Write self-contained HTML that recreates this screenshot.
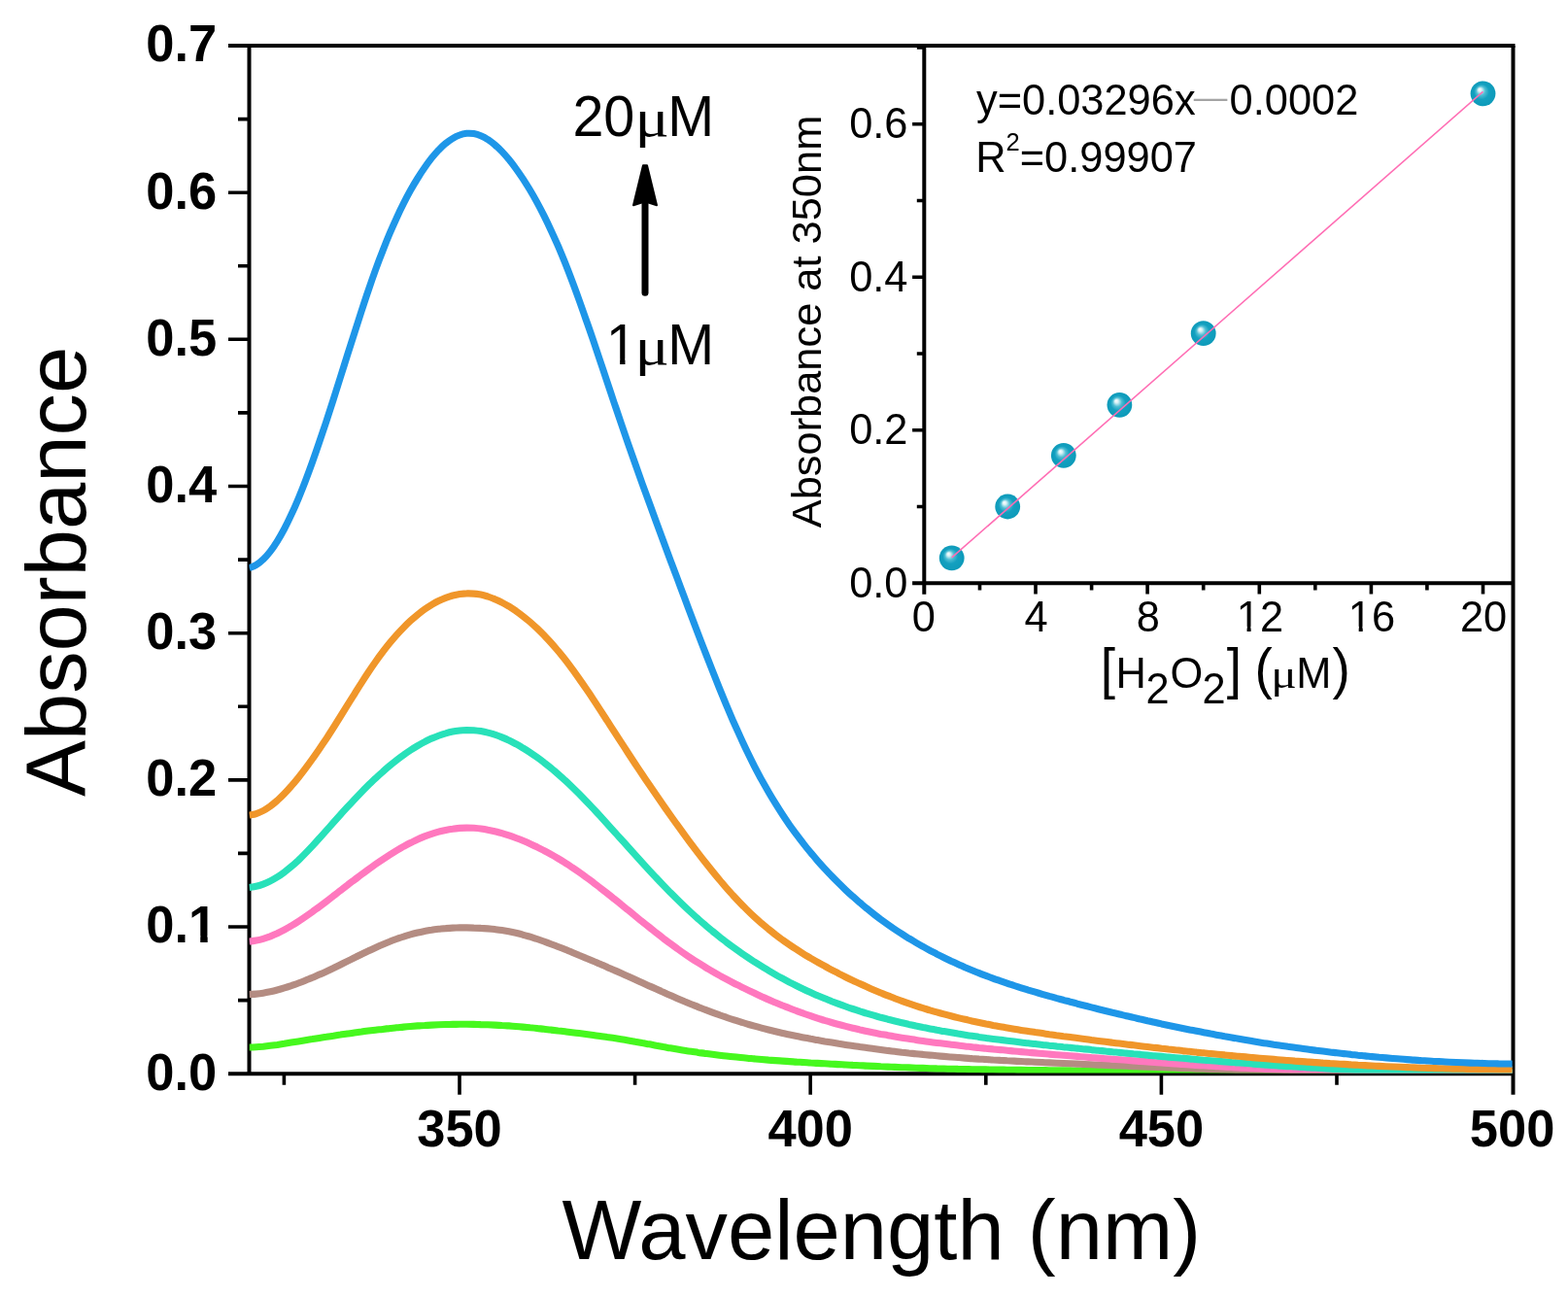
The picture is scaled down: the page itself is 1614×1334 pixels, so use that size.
<!DOCTYPE html>
<html lang="en"><head><meta charset="utf-8"><title>Absorbance vs Wavelength</title>
<style>
html,body{margin:0;padding:0;background:#fff;}
body{width:1614px;height:1334px;overflow:hidden;}
svg{display:block;}
text{font-family:"Liberation Sans",Arial,Helvetica,sans-serif;fill:#000;}
.tk{font-weight:bold;font-size:52.5px;}
.tt{font-size:86.8px;}
.an{font-size:57.5px;}
.in{font-size:43.4px;}
.big{font-size:55px;}
.mu{font-family:"Liberation Serif","DejaVu Serif",serif;font-size:0.918em;}
.ax{stroke:#000;stroke-width:4.0;fill:none;stroke-linecap:butt;}
.t{stroke:#000;stroke-width:3.6;fill:none;}
.c{fill:none;stroke-width:7.1;stroke-linejoin:round;stroke-linecap:butt;}
</style></head><body>
<svg width="1614" height="1334" viewBox="0 0 1614 1334">
<rect width="1614" height="1334" fill="#fff"/>
<g id="main-axes">
<path class="ax" d="M256.5 47.0V1105.2"/>
<path class="ax" d="M235.0 47.0H1559.5"/>
<path class="ax" d="M235.0 1105.2H1557.5"/>
<path class="ax" d="M1557.5 47.0V1126.7"/>
<path class="t" d="M235.0 954.0H256.5M235.0 802.9H256.5M235.0 651.7H256.5M235.0 500.5H256.5M235.0 349.3H256.5M235.0 198.2H256.5M245.0 1029.6H256.5M245.0 878.4H256.5M245.0 727.3H256.5M245.0 576.1H256.5M245.0 424.9H256.5M245.0 273.8H256.5M245.0 122.6H256.5M473.0 1105.2V1126.7M834.2 1105.2V1126.7M1195.4 1105.2V1126.7M292.4 1105.2V1116.7M653.6 1105.2V1116.7M1014.8 1105.2V1116.7M1376.0 1105.2V1116.7"/>
</g>
<g id="main-ticklabels" class="tk">
<text transform="translate(223.3 1121.6) scale(1 1.035)" text-anchor="end">0.0</text>
<clipPath id="k1"><rect x="-900" y="-105.0" width="1800" height="98.1"/><rect x="-17.06" y="-7.9" width="7.44" height="12.9"/><rect x="-900" y="-7.9" width="873.43" height="52.5"/><rect x="-0.84" y="-7.9" width="900" height="52.5"/></clipPath>
<text transform="translate(223.3 970.4) scale(1 1.035)" text-anchor="end" clip-path="url(#k1)">0.1</text>
<text transform="translate(223.3 819.3) scale(1 1.035)" text-anchor="end">0.2</text>
<text transform="translate(223.3 668.1) scale(1 1.035)" text-anchor="end">0.3</text>
<text transform="translate(223.3 516.9) scale(1 1.035)" text-anchor="end">0.4</text>
<text transform="translate(223.3 365.7) scale(1 1.035)" text-anchor="end">0.5</text>
<text transform="translate(223.3 214.6) scale(1 1.035)" text-anchor="end">0.6</text>
<text transform="translate(223.3 63.4) scale(1 1.035)" text-anchor="end">0.7</text>
<text transform="translate(473.0 1180.0) scale(1 1.035)" text-anchor="middle">350</text>
<text transform="translate(834.2 1180.0) scale(1 1.035)" text-anchor="middle">400</text>
<text transform="translate(1195.4 1180.0) scale(1 1.035)" text-anchor="middle">450</text>
<text transform="translate(1556.6 1180.0) scale(1 1.035)" text-anchor="middle">500</text>
</g>
<text transform="translate(907.4 1296.3)" class="tt" text-anchor="middle">Wavelength (nm)</text>
<text transform="translate(88.4 588.4) rotate(-90)" class="tt" text-anchor="middle">Absorbance</text>
<clipPath id="plot"><rect x="256.5" y="47.0" width="1300.3" height="1057.4"/></clipPath>
<g id="curves" clip-path="url(#plot)">
<path class="c" stroke="#46f81e" d="M256.5 1078.0C257.7 1078.0 261.3 1077.9 263.7 1077.7C266.1 1077.6 268.5 1077.4 270.9 1077.2C273.4 1076.9 275.8 1076.6 278.2 1076.3C280.6 1076.0 283.0 1075.7 285.4 1075.4C287.8 1075.0 290.2 1074.6 292.6 1074.3C295.0 1073.9 297.4 1073.5 299.8 1073.1C302.3 1072.7 304.7 1072.3 307.1 1071.9C309.5 1071.5 311.9 1071.1 314.3 1070.7C316.7 1070.3 319.1 1069.9 321.5 1069.6C323.9 1069.2 326.3 1068.8 328.7 1068.4C331.1 1068.0 333.6 1067.6 336.0 1067.3C338.4 1066.9 340.8 1066.5 343.2 1066.2C345.6 1065.8 348.0 1065.4 350.4 1065.1C352.8 1064.7 355.2 1064.4 357.6 1064.0C360.0 1063.7 362.5 1063.4 364.9 1063.0C367.3 1062.7 369.7 1062.4 372.1 1062.1C374.5 1061.7 376.9 1061.4 379.3 1061.1C381.7 1060.8 384.1 1060.5 386.5 1060.2C388.9 1059.9 391.3 1059.7 393.8 1059.4C396.2 1059.1 398.6 1058.8 401.0 1058.6C403.4 1058.3 405.8 1058.1 408.2 1057.8C410.6 1057.6 413.0 1057.3 415.4 1057.1C417.8 1056.9 420.2 1056.7 422.6 1056.5C425.1 1056.3 427.5 1056.1 429.9 1055.9C432.3 1055.8 434.7 1055.6 437.1 1055.5C439.5 1055.3 441.9 1055.2 444.3 1055.1C446.7 1055.0 449.1 1054.9 451.5 1054.8C454.0 1054.7 456.4 1054.6 458.8 1054.5C461.2 1054.5 463.6 1054.4 466.0 1054.4C468.4 1054.4 470.8 1054.3 473.2 1054.3C475.6 1054.3 478.0 1054.3 480.4 1054.3C482.8 1054.4 485.3 1054.4 487.7 1054.4C490.1 1054.5 492.5 1054.5 494.9 1054.6C497.3 1054.6 499.7 1054.7 502.1 1054.8C504.5 1054.9 506.9 1055.0 509.3 1055.1C511.7 1055.2 514.2 1055.3 516.6 1055.5C519.0 1055.6 521.4 1055.8 523.8 1055.9C526.2 1056.1 528.6 1056.3 531.0 1056.5C533.4 1056.7 535.8 1056.9 538.2 1057.1C540.6 1057.3 543.0 1057.5 545.5 1057.8C547.9 1058.0 550.3 1058.2 552.7 1058.5C555.1 1058.8 557.5 1059.0 559.9 1059.3C562.3 1059.6 564.7 1059.8 567.1 1060.1C569.5 1060.4 571.9 1060.7 574.4 1061.0C576.8 1061.2 579.2 1061.5 581.6 1061.8C584.0 1062.1 586.4 1062.4 588.8 1062.7C591.2 1063.0 593.6 1063.3 596.0 1063.6C598.4 1063.9 600.8 1064.2 603.2 1064.5C605.7 1064.8 608.1 1065.1 610.5 1065.4C612.9 1065.8 615.3 1066.1 617.7 1066.4C620.1 1066.8 622.5 1067.1 624.9 1067.5C627.3 1067.8 629.7 1068.2 632.1 1068.5C634.6 1068.9 637.0 1069.3 639.4 1069.7C641.8 1070.1 644.2 1070.5 646.6 1070.9C649.0 1071.3 651.4 1071.7 653.8 1072.2C656.2 1072.6 658.6 1073.0 661.0 1073.5C663.4 1073.9 665.9 1074.4 668.3 1074.8C670.7 1075.3 673.1 1075.7 675.5 1076.2C677.9 1076.6 680.3 1077.0 682.7 1077.5C685.1 1077.9 687.5 1078.4 689.9 1078.8C692.3 1079.2 694.7 1079.6 697.2 1080.0C699.6 1080.4 702.0 1080.8 704.4 1081.2C706.8 1081.6 709.2 1082.0 711.6 1082.3C714.0 1082.7 716.4 1083.0 718.8 1083.4C721.2 1083.7 723.6 1084.1 726.1 1084.4C728.5 1084.7 730.9 1085.0 733.3 1085.3C735.7 1085.6 738.1 1085.9 740.5 1086.2C742.9 1086.5 745.3 1086.8 747.7 1087.0C750.1 1087.3 752.5 1087.6 754.9 1087.8C757.4 1088.1 759.8 1088.3 762.2 1088.5C764.6 1088.8 767.0 1089.0 769.4 1089.2C771.8 1089.4 774.2 1089.7 776.6 1089.9C779.0 1090.1 781.4 1090.3 783.8 1090.5C786.3 1090.7 788.7 1090.9 791.1 1091.1C793.5 1091.2 795.9 1091.4 798.3 1091.6C800.7 1091.8 803.1 1092.0 805.5 1092.1C807.9 1092.3 810.3 1092.5 812.7 1092.6C815.1 1092.8 817.6 1092.9 820.0 1093.1C822.4 1093.2 824.8 1093.4 827.2 1093.5C829.6 1093.7 832.0 1093.8 834.4 1094.0C836.8 1094.1 839.2 1094.3 841.6 1094.4C844.0 1094.5 846.5 1094.7 848.9 1094.8C851.3 1094.9 853.7 1095.1 856.1 1095.2C858.5 1095.3 860.9 1095.5 863.3 1095.6C865.7 1095.7 868.1 1095.9 870.5 1096.0C872.9 1096.1 875.3 1096.2 877.8 1096.4C880.2 1096.5 882.6 1096.6 885.0 1096.7C887.4 1096.8 889.8 1097.0 892.2 1097.1C894.6 1097.2 897.0 1097.3 899.4 1097.4C901.8 1097.5 904.2 1097.6 906.6 1097.8C909.1 1097.9 911.5 1098.0 913.9 1098.1C916.3 1098.2 918.7 1098.3 921.1 1098.4C923.5 1098.5 925.9 1098.6 928.3 1098.7C930.7 1098.8 933.1 1098.8 935.5 1098.9C938.0 1099.0 940.4 1099.1 942.8 1099.2C945.2 1099.3 947.6 1099.4 950.0 1099.4C952.4 1099.5 954.8 1099.6 957.2 1099.7C959.6 1099.7 962.0 1099.8 964.4 1099.9C966.8 1099.9 969.3 1100.0 971.7 1100.0C974.1 1100.1 976.5 1100.2 978.9 1100.2C981.3 1100.3 983.7 1100.3 986.1 1100.4C988.5 1100.4 990.9 1100.5 993.3 1100.5C995.7 1100.6 998.2 1100.6 1000.6 1100.7C1003.0 1100.7 1005.4 1100.8 1007.8 1100.8C1010.2 1100.8 1012.6 1100.9 1015.0 1100.9C1017.4 1100.9 1019.8 1101.0 1022.2 1101.0C1024.6 1101.1 1027.0 1101.1 1029.5 1101.1C1031.9 1101.1 1034.3 1101.2 1036.7 1101.2C1039.1 1101.2 1041.5 1101.3 1043.9 1101.3C1046.3 1101.3 1048.7 1101.4 1051.1 1101.4C1053.5 1101.4 1055.9 1101.4 1058.4 1101.5C1060.8 1101.5 1063.2 1101.5 1065.6 1101.5C1068.0 1101.6 1070.4 1101.6 1072.8 1101.6C1075.2 1101.6 1077.6 1101.7 1080.0 1101.7C1082.4 1101.7 1084.8 1101.7 1087.2 1101.8C1089.7 1101.8 1092.1 1101.8 1094.5 1101.8C1096.9 1101.9 1099.3 1101.9 1101.7 1101.9C1104.1 1101.9 1106.5 1102.0 1108.9 1102.0C1111.3 1102.0 1113.7 1102.1 1116.1 1102.1C1118.6 1102.1 1121.0 1102.1 1123.4 1102.2C1125.8 1102.2 1128.2 1102.2 1130.6 1102.3C1133.0 1102.3 1135.4 1102.3 1137.8 1102.4C1140.2 1102.4 1142.6 1102.4 1145.0 1102.5C1147.4 1102.5 1149.9 1102.5 1152.3 1102.6C1154.7 1102.6 1157.1 1102.6 1159.5 1102.6C1161.9 1102.7 1164.3 1102.7 1166.7 1102.7C1169.1 1102.8 1171.5 1102.8 1173.9 1102.8C1176.3 1102.9 1178.7 1102.9 1181.2 1102.9C1183.6 1103.0 1186.0 1103.0 1188.4 1103.0C1190.8 1103.1 1193.2 1103.1 1195.6 1103.1C1198.0 1103.2 1200.4 1103.2 1202.8 1103.2C1205.2 1103.3 1207.6 1103.3 1210.1 1103.3C1212.5 1103.4 1214.9 1103.4 1217.3 1103.4C1219.7 1103.5 1222.1 1103.5 1224.5 1103.5C1226.9 1103.6 1229.3 1103.6 1231.7 1103.6C1234.1 1103.6 1236.5 1103.7 1238.9 1103.7C1241.4 1103.7 1243.8 1103.8 1246.2 1103.8C1248.6 1103.8 1251.0 1103.8 1253.4 1103.9C1255.8 1103.9 1258.2 1103.9 1260.6 1103.9C1263.0 1104.0 1265.4 1104.0 1267.8 1104.0C1270.3 1104.0 1272.7 1104.1 1275.1 1104.1C1277.5 1104.1 1279.9 1104.1 1282.3 1104.2C1284.7 1104.2 1287.1 1104.2 1289.5 1104.2C1291.9 1104.2 1294.3 1104.2 1296.7 1104.3C1299.1 1104.3 1301.6 1104.3 1304.0 1104.3C1306.4 1104.3 1308.8 1104.3 1311.2 1104.4C1313.6 1104.4 1316.0 1104.4 1318.4 1104.4C1320.8 1104.4 1323.2 1104.4 1325.6 1104.4C1328.0 1104.4 1330.5 1104.5 1332.9 1104.5C1335.3 1104.5 1337.7 1104.5 1340.1 1104.5C1342.5 1104.5 1344.9 1104.5 1347.3 1104.5C1349.7 1104.5 1352.1 1104.5 1354.5 1104.5C1356.9 1104.5 1359.3 1104.5 1361.8 1104.5C1364.2 1104.5 1366.6 1104.5 1369.0 1104.5C1371.4 1104.6 1373.8 1104.6 1376.2 1104.6C1378.6 1104.6 1381.0 1104.6 1383.4 1104.6C1385.8 1104.6 1388.2 1104.6 1390.7 1104.6C1393.1 1104.6 1395.5 1104.6 1397.9 1104.6C1400.3 1104.6 1402.7 1104.6 1405.1 1104.6C1407.5 1104.6 1409.9 1104.6 1412.3 1104.6C1414.7 1104.6 1417.1 1104.6 1419.5 1104.6C1422.0 1104.6 1424.4 1104.6 1426.8 1104.6C1429.2 1104.6 1431.6 1104.6 1434.0 1104.6C1436.4 1104.6 1438.8 1104.6 1441.2 1104.6C1443.6 1104.6 1446.0 1104.6 1448.4 1104.6C1450.8 1104.6 1453.3 1104.6 1455.7 1104.6C1458.1 1104.6 1460.5 1104.6 1462.9 1104.6C1465.3 1104.6 1467.7 1104.6 1470.1 1104.6C1472.5 1104.6 1474.9 1104.6 1477.3 1104.6C1479.7 1104.6 1482.2 1104.6 1484.6 1104.6C1487.0 1104.6 1489.4 1104.6 1491.8 1104.6C1494.2 1104.6 1496.6 1104.6 1499.0 1104.6C1501.4 1104.6 1503.8 1104.6 1506.2 1104.6C1508.6 1104.6 1511.0 1104.6 1513.5 1104.6C1515.9 1104.6 1518.3 1104.6 1520.7 1104.6C1523.1 1104.6 1525.5 1104.7 1527.9 1104.7C1530.3 1104.7 1532.7 1104.7 1535.1 1104.7C1537.5 1104.7 1539.9 1104.7 1542.4 1104.7C1544.8 1104.7 1547.2 1104.7 1549.6 1104.8C1552.0 1104.8 1555.6 1104.8 1556.8 1104.8"/>
<path class="c" stroke="#b48c82" d="M256.5 1023.5C257.7 1023.4 261.3 1023.3 263.7 1023.1C266.1 1022.9 268.5 1022.6 270.9 1022.2C273.4 1021.8 275.8 1021.3 278.2 1020.8C280.6 1020.3 283.0 1019.7 285.4 1019.0C287.8 1018.4 290.2 1017.7 292.6 1016.9C295.0 1016.2 297.4 1015.4 299.8 1014.6C302.3 1013.7 304.7 1012.9 307.1 1012.0C309.5 1011.1 311.9 1010.2 314.3 1009.2C316.7 1008.2 319.1 1007.3 321.5 1006.3C323.9 1005.2 326.3 1004.2 328.7 1003.1C331.1 1002.1 333.6 1001.0 336.0 999.9C338.4 998.8 340.8 997.6 343.2 996.5C345.6 995.3 348.0 994.2 350.4 993.0C352.8 991.8 355.2 990.6 357.6 989.4C360.0 988.2 362.5 987.0 364.9 985.8C367.3 984.6 369.7 983.4 372.1 982.2C374.5 981.1 376.9 979.9 379.3 978.8C381.7 977.6 384.1 976.5 386.5 975.4C388.9 974.3 391.3 973.2 393.8 972.2C396.2 971.2 398.6 970.2 401.0 969.3C403.4 968.3 405.8 967.4 408.2 966.5C410.6 965.7 413.0 964.8 415.4 964.1C417.8 963.3 420.2 962.6 422.6 961.9C425.1 961.2 427.5 960.6 429.9 960.0C432.3 959.4 434.7 958.9 437.1 958.4C439.5 958.0 441.9 957.5 444.3 957.2C446.7 956.8 449.1 956.5 451.5 956.2C454.0 956.0 456.4 955.7 458.8 955.6C461.2 955.4 463.6 955.2 466.0 955.1C468.4 955.0 470.8 955.0 473.2 954.9C475.6 954.9 478.0 954.9 480.4 954.9C482.8 954.9 485.3 955.0 487.7 955.1C490.1 955.1 492.5 955.2 494.9 955.4C497.3 955.5 499.7 955.7 502.1 955.9C504.5 956.1 506.9 956.3 509.3 956.6C511.7 956.9 514.2 957.2 516.6 957.6C519.0 958.0 521.4 958.4 523.8 958.8C526.2 959.3 528.6 959.8 531.0 960.3C533.4 960.9 535.8 961.5 538.2 962.2C540.6 962.8 543.0 963.5 545.5 964.2C547.9 965.0 550.3 965.7 552.7 966.5C555.1 967.3 557.5 968.2 559.9 969.0C562.3 969.9 564.7 970.8 567.1 971.7C569.5 972.6 571.9 973.5 574.4 974.5C576.8 975.4 579.2 976.3 581.6 977.3C584.0 978.3 586.4 979.2 588.8 980.2C591.2 981.2 593.6 982.2 596.0 983.2C598.4 984.1 600.8 985.1 603.2 986.2C605.7 987.2 608.1 988.2 610.5 989.2C612.9 990.2 615.3 991.3 617.7 992.3C620.1 993.3 622.5 994.4 624.9 995.4C627.3 996.5 629.7 997.5 632.1 998.6C634.6 999.6 637.0 1000.7 639.4 1001.8C641.8 1002.9 644.2 1004.0 646.6 1005.0C649.0 1006.1 651.4 1007.2 653.8 1008.3C656.2 1009.4 658.6 1010.5 661.0 1011.6C663.4 1012.7 665.9 1013.8 668.3 1014.9C670.7 1015.9 673.1 1017.0 675.5 1018.1C677.9 1019.2 680.3 1020.3 682.7 1021.3C685.1 1022.4 687.5 1023.5 689.9 1024.5C692.3 1025.6 694.7 1026.6 697.2 1027.7C699.6 1028.7 702.0 1029.7 704.4 1030.7C706.8 1031.7 709.2 1032.7 711.6 1033.7C714.0 1034.7 716.4 1035.6 718.8 1036.6C721.2 1037.5 723.6 1038.5 726.1 1039.4C728.5 1040.3 730.9 1041.2 733.3 1042.1C735.7 1043.0 738.1 1043.9 740.5 1044.7C742.9 1045.6 745.3 1046.4 747.7 1047.2C750.1 1048.1 752.5 1048.9 754.9 1049.6C757.4 1050.4 759.8 1051.2 762.2 1051.9C764.6 1052.7 767.0 1053.4 769.4 1054.1C771.8 1054.8 774.2 1055.5 776.6 1056.2C779.0 1056.9 781.4 1057.5 783.8 1058.1C786.3 1058.8 788.7 1059.4 791.1 1060.0C793.5 1060.6 795.9 1061.2 798.3 1061.7C800.7 1062.3 803.1 1062.9 805.5 1063.4C807.9 1063.9 810.3 1064.5 812.7 1065.0C815.1 1065.5 817.6 1066.0 820.0 1066.5C822.4 1067.0 824.8 1067.4 827.2 1067.9C829.6 1068.4 832.0 1068.8 834.4 1069.3C836.8 1069.7 839.2 1070.2 841.6 1070.6C844.0 1071.0 846.5 1071.4 848.9 1071.9C851.3 1072.3 853.7 1072.7 856.1 1073.1C858.5 1073.5 860.9 1073.9 863.3 1074.3C865.7 1074.6 868.1 1075.0 870.5 1075.4C872.9 1075.8 875.3 1076.1 877.8 1076.5C880.2 1076.9 882.6 1077.2 885.0 1077.6C887.4 1077.9 889.8 1078.3 892.2 1078.6C894.6 1078.9 897.0 1079.3 899.4 1079.6C901.8 1079.9 904.2 1080.2 906.6 1080.5C909.1 1080.8 911.5 1081.1 913.9 1081.4C916.3 1081.7 918.7 1082.0 921.1 1082.3C923.5 1082.6 925.9 1082.9 928.3 1083.2C930.7 1083.4 933.1 1083.7 935.5 1084.0C938.0 1084.2 940.4 1084.5 942.8 1084.7C945.2 1085.0 947.6 1085.2 950.0 1085.4C952.4 1085.7 954.8 1085.9 957.2 1086.1C959.6 1086.4 962.0 1086.6 964.4 1086.8C966.8 1087.0 969.3 1087.2 971.7 1087.4C974.1 1087.6 976.5 1087.8 978.9 1088.0C981.3 1088.2 983.7 1088.4 986.1 1088.5C988.5 1088.7 990.9 1088.9 993.3 1089.1C995.7 1089.3 998.2 1089.4 1000.6 1089.6C1003.0 1089.7 1005.4 1089.9 1007.8 1090.1C1010.2 1090.2 1012.6 1090.4 1015.0 1090.5C1017.4 1090.7 1019.8 1090.8 1022.2 1091.0C1024.6 1091.1 1027.0 1091.2 1029.5 1091.4C1031.9 1091.5 1034.3 1091.6 1036.7 1091.8C1039.1 1091.9 1041.5 1092.0 1043.9 1092.1C1046.3 1092.3 1048.7 1092.4 1051.1 1092.5C1053.5 1092.6 1055.9 1092.8 1058.4 1092.9C1060.8 1093.0 1063.2 1093.1 1065.6 1093.2C1068.0 1093.3 1070.4 1093.4 1072.8 1093.5C1075.2 1093.7 1077.6 1093.8 1080.0 1093.9C1082.4 1094.0 1084.8 1094.1 1087.2 1094.2C1089.7 1094.3 1092.1 1094.4 1094.5 1094.5C1096.9 1094.6 1099.3 1094.7 1101.7 1094.8C1104.1 1094.9 1106.5 1095.0 1108.9 1095.1C1111.3 1095.2 1113.7 1095.4 1116.1 1095.5C1118.6 1095.6 1121.0 1095.7 1123.4 1095.8C1125.8 1095.9 1128.2 1096.0 1130.6 1096.1C1133.0 1096.2 1135.4 1096.3 1137.8 1096.4C1140.2 1096.5 1142.6 1096.6 1145.0 1096.7C1147.4 1096.8 1149.9 1096.9 1152.3 1097.0C1154.7 1097.1 1157.1 1097.2 1159.5 1097.3C1161.9 1097.4 1164.3 1097.5 1166.7 1097.6C1169.1 1097.7 1171.5 1097.8 1173.9 1097.9C1176.3 1098.0 1178.7 1098.1 1181.2 1098.2C1183.6 1098.3 1186.0 1098.4 1188.4 1098.5C1190.8 1098.5 1193.2 1098.6 1195.6 1098.7C1198.0 1098.8 1200.4 1098.9 1202.8 1099.0C1205.2 1099.1 1207.6 1099.2 1210.1 1099.3C1212.5 1099.4 1214.9 1099.5 1217.3 1099.6C1219.7 1099.6 1222.1 1099.7 1224.5 1099.8C1226.9 1099.9 1229.3 1100.0 1231.7 1100.1C1234.1 1100.2 1236.5 1100.2 1238.9 1100.3C1241.4 1100.4 1243.8 1100.5 1246.2 1100.6C1248.6 1100.7 1251.0 1100.7 1253.4 1100.8C1255.8 1100.9 1258.2 1101.0 1260.6 1101.0C1263.0 1101.1 1265.4 1101.2 1267.8 1101.3C1270.3 1101.3 1272.7 1101.4 1275.1 1101.5C1277.5 1101.6 1279.9 1101.6 1282.3 1101.7C1284.7 1101.8 1287.1 1101.8 1289.5 1101.9C1291.9 1102.0 1294.3 1102.0 1296.7 1102.1C1299.1 1102.2 1301.6 1102.2 1304.0 1102.3C1306.4 1102.4 1308.8 1102.4 1311.2 1102.5C1313.6 1102.5 1316.0 1102.6 1318.4 1102.7C1320.8 1102.7 1323.2 1102.8 1325.6 1102.8C1328.0 1102.9 1330.5 1102.9 1332.9 1103.0C1335.3 1103.0 1337.7 1103.1 1340.1 1103.1C1342.5 1103.2 1344.9 1103.2 1347.3 1103.3C1349.7 1103.3 1352.1 1103.4 1354.5 1103.4C1356.9 1103.5 1359.3 1103.5 1361.8 1103.5C1364.2 1103.6 1366.6 1103.6 1369.0 1103.7C1371.4 1103.7 1373.8 1103.7 1376.2 1103.8C1378.6 1103.8 1381.0 1103.8 1383.4 1103.9C1385.8 1103.9 1388.2 1104.0 1390.7 1104.0C1393.1 1104.0 1395.5 1104.0 1397.9 1104.1C1400.3 1104.1 1402.7 1104.1 1405.1 1104.2C1407.5 1104.2 1409.9 1104.2 1412.3 1104.2C1414.7 1104.3 1417.1 1104.3 1419.5 1104.3C1422.0 1104.3 1424.4 1104.4 1426.8 1104.4C1429.2 1104.4 1431.6 1104.4 1434.0 1104.4C1436.4 1104.5 1438.8 1104.5 1441.2 1104.5C1443.6 1104.5 1446.0 1104.5 1448.4 1104.5C1450.8 1104.5 1453.3 1104.6 1455.7 1104.6C1458.1 1104.6 1460.5 1104.6 1462.9 1104.6C1465.3 1104.6 1467.7 1104.6 1470.1 1104.6C1472.5 1104.6 1474.9 1104.6 1477.3 1104.7C1479.7 1104.7 1482.2 1104.7 1484.6 1104.7C1487.0 1104.7 1489.4 1104.7 1491.8 1104.7C1494.2 1104.7 1496.6 1104.7 1499.0 1104.7C1501.4 1104.7 1503.8 1104.7 1506.2 1104.7C1508.6 1104.7 1511.0 1104.7 1513.5 1104.7C1515.9 1104.7 1518.3 1104.7 1520.7 1104.6C1523.1 1104.6 1525.5 1104.6 1527.9 1104.6C1530.3 1104.6 1532.7 1104.6 1535.1 1104.6C1537.5 1104.6 1539.9 1104.6 1542.4 1104.6C1544.8 1104.6 1547.2 1104.5 1549.6 1104.5C1552.0 1104.5 1555.6 1104.5 1556.8 1104.5"/>
<path class="c" stroke="#ff78be" d="M256.5 969.1C257.7 968.9 261.3 968.6 263.7 968.1C266.1 967.6 268.5 967.0 270.9 966.3C273.4 965.6 275.8 964.8 278.2 963.9C280.6 962.9 283.0 961.9 285.4 960.8C287.8 959.6 290.2 958.4 292.6 957.1C295.0 955.8 297.4 954.5 299.8 953.0C302.3 951.6 304.7 950.1 307.1 948.5C309.5 947.0 311.9 945.4 314.3 943.7C316.7 942.0 319.1 940.3 321.5 938.6C323.9 936.8 326.3 935.1 328.7 933.3C331.1 931.5 333.6 929.6 336.0 927.8C338.4 926.0 340.8 924.1 343.2 922.2C345.6 920.4 348.0 918.5 350.4 916.7C352.8 914.8 355.2 912.9 357.6 911.1C360.0 909.2 362.5 907.4 364.9 905.6C367.3 903.8 369.7 901.9 372.1 900.1C374.5 898.4 376.9 896.6 379.3 894.8C381.7 893.1 384.1 891.4 386.5 889.7C388.9 888.0 391.3 886.3 393.8 884.7C396.2 883.1 398.6 881.5 401.0 880.0C403.4 878.5 405.8 877.0 408.2 875.5C410.6 874.1 413.0 872.7 415.4 871.3C417.8 870.0 420.2 868.7 422.6 867.5C425.1 866.3 427.5 865.1 429.9 864.0C432.3 862.9 434.7 861.9 437.1 860.9C439.5 860.0 441.9 859.1 444.3 858.3C446.7 857.5 449.1 856.8 451.5 856.1C454.0 855.5 456.4 854.9 458.8 854.4C461.2 853.9 463.6 853.5 466.0 853.2C468.4 852.8 470.8 852.6 473.2 852.4C475.6 852.2 478.0 852.1 480.4 852.1C482.8 852.1 485.3 852.2 487.7 852.3C490.1 852.5 492.5 852.7 494.9 853.0C497.3 853.3 499.7 853.7 502.1 854.2C504.5 854.6 506.9 855.1 509.3 855.7C511.7 856.3 514.2 856.9 516.6 857.6C519.0 858.3 521.4 859.1 523.8 859.9C526.2 860.7 528.6 861.6 531.0 862.5C533.4 863.4 535.8 864.3 538.2 865.3C540.6 866.3 543.0 867.3 545.5 868.4C547.9 869.5 550.3 870.6 552.7 871.8C555.1 873.0 557.5 874.2 559.9 875.5C562.3 876.7 564.7 878.0 567.1 879.4C569.5 880.7 571.9 882.1 574.4 883.6C576.8 885.0 579.2 886.5 581.6 888.0C584.0 889.6 586.4 891.1 588.8 892.8C591.2 894.4 593.6 896.0 596.0 897.7C598.4 899.4 600.8 901.1 603.2 902.9C605.7 904.6 608.1 906.4 610.5 908.2C612.9 910.1 615.3 911.9 617.7 913.8C620.1 915.6 622.5 917.5 624.9 919.4C627.3 921.3 629.7 923.2 632.1 925.2C634.6 927.1 637.0 929.0 639.4 931.0C641.8 932.9 644.2 934.9 646.6 936.8C649.0 938.8 651.4 940.8 653.8 942.7C656.2 944.7 658.6 946.6 661.0 948.6C663.4 950.5 665.9 952.5 668.3 954.4C670.7 956.3 673.1 958.3 675.5 960.2C677.9 962.0 680.3 963.9 682.7 965.8C685.1 967.6 687.5 969.5 689.9 971.2C692.3 973.0 694.7 974.8 697.2 976.5C699.6 978.3 702.0 980.0 704.4 981.6C706.8 983.3 709.2 984.9 711.6 986.5C714.0 988.1 716.4 989.6 718.8 991.1C721.2 992.6 723.6 994.1 726.1 995.6C728.5 997.0 730.9 998.5 733.3 999.9C735.7 1001.2 738.1 1002.6 740.5 1004.0C742.9 1005.3 745.3 1006.6 747.7 1007.9C750.1 1009.2 752.5 1010.5 754.9 1011.7C757.4 1012.9 759.8 1014.2 762.2 1015.4C764.6 1016.6 767.0 1017.7 769.4 1018.9C771.8 1020.1 774.2 1021.2 776.6 1022.3C779.0 1023.5 781.4 1024.6 783.8 1025.7C786.3 1026.8 788.7 1027.8 791.1 1028.9C793.5 1029.9 795.9 1031.0 798.3 1032.0C800.7 1033.0 803.1 1034.0 805.5 1035.0C807.9 1035.9 810.3 1036.9 812.7 1037.8C815.1 1038.8 817.6 1039.7 820.0 1040.6C822.4 1041.5 824.8 1042.4 827.2 1043.2C829.6 1044.1 832.0 1044.9 834.4 1045.7C836.8 1046.5 839.2 1047.3 841.6 1048.1C844.0 1048.9 846.5 1049.6 848.9 1050.4C851.3 1051.1 853.7 1051.8 856.1 1052.5C858.5 1053.2 860.9 1053.9 863.3 1054.5C865.7 1055.2 868.1 1055.8 870.5 1056.4C872.9 1057.0 875.3 1057.6 877.8 1058.2C880.2 1058.8 882.6 1059.3 885.0 1059.9C887.4 1060.4 889.8 1061.0 892.2 1061.5C894.6 1062.0 897.0 1062.5 899.4 1063.0C901.8 1063.5 904.2 1063.9 906.6 1064.4C909.1 1064.8 911.5 1065.3 913.9 1065.7C916.3 1066.1 918.7 1066.6 921.1 1067.0C923.5 1067.4 925.9 1067.8 928.3 1068.2C930.7 1068.6 933.1 1068.9 935.5 1069.3C938.0 1069.7 940.4 1070.0 942.8 1070.4C945.2 1070.8 947.6 1071.1 950.0 1071.4C952.4 1071.8 954.8 1072.1 957.2 1072.4C959.6 1072.8 962.0 1073.1 964.4 1073.4C966.8 1073.7 969.3 1074.0 971.7 1074.3C974.1 1074.6 976.5 1074.9 978.9 1075.2C981.3 1075.5 983.7 1075.8 986.1 1076.1C988.5 1076.4 990.9 1076.6 993.3 1076.9C995.7 1077.2 998.2 1077.4 1000.6 1077.7C1003.0 1078.0 1005.4 1078.2 1007.8 1078.5C1010.2 1078.7 1012.6 1079.0 1015.0 1079.2C1017.4 1079.5 1019.8 1079.7 1022.2 1079.9C1024.6 1080.2 1027.0 1080.4 1029.5 1080.6C1031.9 1080.9 1034.3 1081.1 1036.7 1081.3C1039.1 1081.5 1041.5 1081.8 1043.9 1082.0C1046.3 1082.2 1048.7 1082.4 1051.1 1082.6C1053.5 1082.8 1055.9 1083.0 1058.4 1083.3C1060.8 1083.5 1063.2 1083.7 1065.6 1083.9C1068.0 1084.1 1070.4 1084.3 1072.8 1084.5C1075.2 1084.7 1077.6 1084.9 1080.0 1085.1C1082.4 1085.3 1084.8 1085.5 1087.2 1085.7C1089.7 1085.9 1092.1 1086.1 1094.5 1086.2C1096.9 1086.4 1099.3 1086.6 1101.7 1086.8C1104.1 1087.0 1106.5 1087.2 1108.9 1087.4C1111.3 1087.6 1113.7 1087.8 1116.1 1088.0C1118.6 1088.2 1121.0 1088.4 1123.4 1088.6C1125.8 1088.7 1128.2 1088.9 1130.6 1089.1C1133.0 1089.3 1135.4 1089.5 1137.8 1089.7C1140.2 1089.9 1142.6 1090.1 1145.0 1090.2C1147.4 1090.4 1149.9 1090.6 1152.3 1090.8C1154.7 1091.0 1157.1 1091.2 1159.5 1091.3C1161.9 1091.5 1164.3 1091.7 1166.7 1091.9C1169.1 1092.1 1171.5 1092.2 1173.9 1092.4C1176.3 1092.6 1178.7 1092.8 1181.2 1092.9C1183.6 1093.1 1186.0 1093.3 1188.4 1093.5C1190.8 1093.6 1193.2 1093.8 1195.6 1094.0C1198.0 1094.1 1200.4 1094.3 1202.8 1094.5C1205.2 1094.6 1207.6 1094.8 1210.1 1095.0C1212.5 1095.1 1214.9 1095.3 1217.3 1095.4C1219.7 1095.6 1222.1 1095.8 1224.5 1095.9C1226.9 1096.1 1229.3 1096.2 1231.7 1096.4C1234.1 1096.5 1236.5 1096.7 1238.9 1096.8C1241.4 1097.0 1243.8 1097.1 1246.2 1097.3C1248.6 1097.4 1251.0 1097.6 1253.4 1097.7C1255.8 1097.9 1258.2 1098.0 1260.6 1098.1C1263.0 1098.3 1265.4 1098.4 1267.8 1098.5C1270.3 1098.7 1272.7 1098.8 1275.1 1098.9C1277.5 1099.1 1279.9 1099.2 1282.3 1099.3C1284.7 1099.4 1287.1 1099.6 1289.5 1099.7C1291.9 1099.8 1294.3 1099.9 1296.7 1100.0C1299.1 1100.1 1301.6 1100.3 1304.0 1100.4C1306.4 1100.5 1308.8 1100.6 1311.2 1100.7C1313.6 1100.8 1316.0 1100.9 1318.4 1101.0C1320.8 1101.1 1323.2 1101.2 1325.6 1101.3C1328.0 1101.4 1330.5 1101.5 1332.9 1101.6C1335.3 1101.7 1337.7 1101.8 1340.1 1101.8C1342.5 1101.9 1344.9 1102.0 1347.3 1102.1C1349.7 1102.2 1352.1 1102.3 1354.5 1102.3C1356.9 1102.4 1359.3 1102.5 1361.8 1102.6C1364.2 1102.6 1366.6 1102.7 1369.0 1102.8C1371.4 1102.8 1373.8 1102.9 1376.2 1103.0C1378.6 1103.0 1381.0 1103.1 1383.4 1103.1C1385.8 1103.2 1388.2 1103.3 1390.7 1103.3C1393.1 1103.4 1395.5 1103.4 1397.9 1103.5C1400.3 1103.5 1402.7 1103.6 1405.1 1103.6C1407.5 1103.7 1409.9 1103.7 1412.3 1103.8C1414.7 1103.8 1417.1 1103.8 1419.5 1103.9C1422.0 1103.9 1424.4 1104.0 1426.8 1104.0C1429.2 1104.0 1431.6 1104.1 1434.0 1104.1C1436.4 1104.1 1438.8 1104.2 1441.2 1104.2C1443.6 1104.2 1446.0 1104.2 1448.4 1104.3C1450.8 1104.3 1453.3 1104.3 1455.7 1104.3C1458.1 1104.4 1460.5 1104.4 1462.9 1104.4C1465.3 1104.4 1467.7 1104.4 1470.1 1104.4C1472.5 1104.4 1474.9 1104.5 1477.3 1104.5C1479.7 1104.5 1482.2 1104.5 1484.6 1104.5C1487.0 1104.5 1489.4 1104.5 1491.8 1104.5C1494.2 1104.5 1496.6 1104.5 1499.0 1104.5C1501.4 1104.5 1503.8 1104.5 1506.2 1104.5C1508.6 1104.5 1511.0 1104.5 1513.5 1104.5C1515.9 1104.5 1518.3 1104.5 1520.7 1104.5C1523.1 1104.5 1525.5 1104.5 1527.9 1104.5C1530.3 1104.4 1532.7 1104.4 1535.1 1104.4C1537.5 1104.4 1539.9 1104.4 1542.4 1104.4C1544.8 1104.3 1547.2 1104.3 1549.6 1104.3C1552.0 1104.3 1555.6 1104.3 1556.8 1104.2"/>
<path class="c" stroke="#28e1b9" d="M256.5 913.5C257.7 913.3 261.3 912.9 263.7 912.3C266.1 911.8 268.5 911.0 270.9 910.1C273.4 909.2 275.8 908.2 278.2 906.9C280.6 905.7 283.0 904.3 285.4 902.8C287.8 901.3 290.2 899.6 292.6 897.8C295.0 896.1 297.4 894.1 299.8 892.1C302.3 890.0 304.7 887.8 307.1 885.6C309.5 883.3 311.9 880.9 314.3 878.4C316.7 876.0 319.1 873.4 321.5 870.9C323.9 868.3 326.3 865.6 328.7 862.9C331.1 860.3 333.6 857.6 336.0 854.8C338.4 852.1 340.8 849.4 343.2 846.7C345.6 844.0 348.0 841.3 350.4 838.6C352.8 835.9 355.2 833.3 357.6 830.7C360.0 828.1 362.5 825.5 364.9 822.9C367.3 820.4 369.7 817.9 372.1 815.4C374.5 812.9 376.9 810.5 379.3 808.1C381.7 805.8 384.1 803.4 386.5 801.2C388.9 798.9 391.3 796.7 393.8 794.6C396.2 792.4 398.6 790.3 401.0 788.3C403.4 786.3 405.8 784.4 408.2 782.5C410.6 780.6 413.0 778.8 415.4 777.1C417.8 775.3 420.2 773.7 422.6 772.1C425.1 770.5 427.5 769.0 429.9 767.6C432.3 766.2 434.7 764.8 437.1 763.6C439.5 762.3 441.9 761.2 444.3 760.1C446.7 759.1 449.1 758.1 451.5 757.2C454.0 756.3 456.4 755.5 458.8 754.9C461.2 754.2 463.6 753.6 466.0 753.1C468.4 752.6 470.8 752.3 473.2 752.0C475.6 751.7 478.0 751.6 480.4 751.5C482.8 751.5 485.3 751.6 487.7 751.7C490.1 751.9 492.5 752.2 494.9 752.6C497.3 753.0 499.7 753.5 502.1 754.1C504.5 754.7 506.9 755.5 509.3 756.2C511.7 757.0 514.2 757.9 516.6 758.9C519.0 759.9 521.4 760.9 523.8 762.1C526.2 763.2 528.6 764.5 531.0 765.7C533.4 767.0 535.8 768.4 538.2 769.9C540.6 771.3 543.0 772.8 545.5 774.4C547.9 776.0 550.3 777.7 552.7 779.4C555.1 781.1 557.5 782.9 559.9 784.8C562.3 786.6 564.7 788.5 567.1 790.5C569.5 792.5 571.9 794.6 574.4 796.7C576.8 798.8 579.2 800.9 581.6 803.2C584.0 805.4 586.4 807.7 588.8 810.0C591.2 812.3 593.6 814.7 596.0 817.1C598.4 819.6 600.8 822.0 603.2 824.5C605.7 827.0 608.1 829.6 610.5 832.1C612.9 834.7 615.3 837.3 617.7 839.9C620.1 842.5 622.5 845.2 624.9 847.8C627.3 850.5 629.7 853.2 632.1 855.8C634.6 858.5 637.0 861.2 639.4 863.9C641.8 866.5 644.2 869.2 646.6 871.9C649.0 874.6 651.4 877.3 653.8 879.9C656.2 882.6 658.6 885.2 661.0 887.9C663.4 890.5 665.9 893.2 668.3 895.8C670.7 898.4 673.1 901.0 675.5 903.5C677.9 906.1 680.3 908.6 682.7 911.1C685.1 913.6 687.5 916.1 689.9 918.6C692.3 921.0 694.7 923.4 697.2 925.8C699.6 928.2 702.0 930.5 704.4 932.8C706.8 935.1 709.2 937.3 711.6 939.5C714.0 941.7 716.4 943.9 718.8 946.0C721.2 948.2 723.6 950.3 726.1 952.3C728.5 954.4 730.9 956.4 733.3 958.4C735.7 960.3 738.1 962.3 740.5 964.2C742.9 966.1 745.3 967.9 747.7 969.8C750.1 971.6 752.5 973.4 754.9 975.1C757.4 976.9 759.8 978.6 762.2 980.3C764.6 982.0 767.0 983.7 769.4 985.3C771.8 986.9 774.2 988.5 776.6 990.1C779.0 991.6 781.4 993.1 783.8 994.6C786.3 996.1 788.7 997.6 791.1 999.0C793.5 1000.4 795.9 1001.8 798.3 1003.2C800.7 1004.6 803.1 1005.9 805.5 1007.2C807.9 1008.5 810.3 1009.8 812.7 1011.1C815.1 1012.3 817.6 1013.5 820.0 1014.7C822.4 1015.9 824.8 1017.1 827.2 1018.2C829.6 1019.4 832.0 1020.5 834.4 1021.6C836.8 1022.7 839.2 1023.7 841.6 1024.8C844.0 1025.8 846.5 1026.8 848.9 1027.8C851.3 1028.8 853.7 1029.7 856.1 1030.7C858.5 1031.6 860.9 1032.5 863.3 1033.4C865.7 1034.3 868.1 1035.2 870.5 1036.0C872.9 1036.9 875.3 1037.7 877.8 1038.5C880.2 1039.3 882.6 1040.1 885.0 1040.9C887.4 1041.6 889.8 1042.4 892.2 1043.1C894.6 1043.8 897.0 1044.5 899.4 1045.2C901.8 1045.9 904.2 1046.6 906.6 1047.3C909.1 1047.9 911.5 1048.5 913.9 1049.2C916.3 1049.8 918.7 1050.4 921.1 1051.0C923.5 1051.6 925.9 1052.2 928.3 1052.7C930.7 1053.3 933.1 1053.8 935.5 1054.4C938.0 1054.9 940.4 1055.4 942.8 1056.0C945.2 1056.5 947.6 1057.0 950.0 1057.5C952.4 1057.9 954.8 1058.4 957.2 1058.9C959.6 1059.4 962.0 1059.8 964.4 1060.3C966.8 1060.7 969.3 1061.2 971.7 1061.6C974.1 1062.0 976.5 1062.4 978.9 1062.8C981.3 1063.3 983.7 1063.7 986.1 1064.1C988.5 1064.4 990.9 1064.8 993.3 1065.2C995.7 1065.6 998.2 1066.0 1000.6 1066.3C1003.0 1066.7 1005.4 1067.0 1007.8 1067.4C1010.2 1067.7 1012.6 1068.1 1015.0 1068.4C1017.4 1068.7 1019.8 1069.1 1022.2 1069.4C1024.6 1069.7 1027.0 1070.0 1029.5 1070.3C1031.9 1070.6 1034.3 1070.9 1036.7 1071.2C1039.1 1071.5 1041.5 1071.8 1043.9 1072.1C1046.3 1072.4 1048.7 1072.7 1051.1 1073.0C1053.5 1073.3 1055.9 1073.5 1058.4 1073.8C1060.8 1074.1 1063.2 1074.3 1065.6 1074.6C1068.0 1074.9 1070.4 1075.1 1072.8 1075.4C1075.2 1075.7 1077.6 1075.9 1080.0 1076.2C1082.4 1076.4 1084.8 1076.7 1087.2 1076.9C1089.7 1077.2 1092.1 1077.4 1094.5 1077.7C1096.9 1077.9 1099.3 1078.2 1101.7 1078.4C1104.1 1078.6 1106.5 1078.9 1108.9 1079.1C1111.3 1079.4 1113.7 1079.6 1116.1 1079.9C1118.6 1080.1 1121.0 1080.3 1123.4 1080.6C1125.8 1080.8 1128.2 1081.1 1130.6 1081.3C1133.0 1081.5 1135.4 1081.8 1137.8 1082.0C1140.2 1082.2 1142.6 1082.5 1145.0 1082.7C1147.4 1082.9 1149.9 1083.2 1152.3 1083.4C1154.7 1083.6 1157.1 1083.9 1159.5 1084.1C1161.9 1084.3 1164.3 1084.5 1166.7 1084.8C1169.1 1085.0 1171.5 1085.2 1173.9 1085.4C1176.3 1085.7 1178.7 1085.9 1181.2 1086.1C1183.6 1086.3 1186.0 1086.6 1188.4 1086.8C1190.8 1087.0 1193.2 1087.2 1195.6 1087.4C1198.0 1087.6 1200.4 1087.9 1202.8 1088.1C1205.2 1088.3 1207.6 1088.5 1210.1 1088.7C1212.5 1088.9 1214.9 1089.1 1217.3 1089.3C1219.7 1089.5 1222.1 1089.7 1224.5 1089.9C1226.9 1090.1 1229.3 1090.4 1231.7 1090.6C1234.1 1090.8 1236.5 1091.0 1238.9 1091.2C1241.4 1091.3 1243.8 1091.5 1246.2 1091.7C1248.6 1091.9 1251.0 1092.1 1253.4 1092.3C1255.8 1092.5 1258.2 1092.7 1260.6 1092.9C1263.0 1093.1 1265.4 1093.3 1267.8 1093.5C1270.3 1093.6 1272.7 1093.8 1275.1 1094.0C1277.5 1094.2 1279.9 1094.4 1282.3 1094.5C1284.7 1094.7 1287.1 1094.9 1289.5 1095.1C1291.9 1095.3 1294.3 1095.4 1296.7 1095.6C1299.1 1095.8 1301.6 1095.9 1304.0 1096.1C1306.4 1096.3 1308.8 1096.4 1311.2 1096.6C1313.6 1096.8 1316.0 1096.9 1318.4 1097.1C1320.8 1097.3 1323.2 1097.4 1325.6 1097.6C1328.0 1097.7 1330.5 1097.9 1332.9 1098.0C1335.3 1098.2 1337.7 1098.3 1340.1 1098.5C1342.5 1098.6 1344.9 1098.8 1347.3 1098.9C1349.7 1099.1 1352.1 1099.2 1354.5 1099.3C1356.9 1099.5 1359.3 1099.6 1361.8 1099.7C1364.2 1099.9 1366.6 1100.0 1369.0 1100.1C1371.4 1100.3 1373.8 1100.4 1376.2 1100.5C1378.6 1100.6 1381.0 1100.8 1383.4 1100.9C1385.8 1101.0 1388.2 1101.1 1390.7 1101.2C1393.1 1101.3 1395.5 1101.5 1397.9 1101.6C1400.3 1101.7 1402.7 1101.8 1405.1 1101.9C1407.5 1102.0 1409.9 1102.1 1412.3 1102.2C1414.7 1102.3 1417.1 1102.4 1419.5 1102.4C1422.0 1102.5 1424.4 1102.6 1426.8 1102.7C1429.2 1102.8 1431.6 1102.9 1434.0 1103.0C1436.4 1103.0 1438.8 1103.1 1441.2 1103.2C1443.6 1103.2 1446.0 1103.3 1448.4 1103.4C1450.8 1103.4 1453.3 1103.5 1455.7 1103.6C1458.1 1103.6 1460.5 1103.7 1462.9 1103.7C1465.3 1103.8 1467.7 1103.8 1470.1 1103.9C1472.5 1103.9 1474.9 1103.9 1477.3 1104.0C1479.7 1104.0 1482.2 1104.1 1484.6 1104.1C1487.0 1104.1 1489.4 1104.1 1491.8 1104.2C1494.2 1104.2 1496.6 1104.2 1499.0 1104.2C1501.4 1104.2 1503.8 1104.2 1506.2 1104.2C1508.6 1104.3 1511.0 1104.3 1513.5 1104.3C1515.9 1104.2 1518.3 1104.2 1520.7 1104.2C1523.1 1104.2 1525.5 1104.2 1527.9 1104.2C1530.3 1104.2 1532.7 1104.2 1535.1 1104.1C1537.5 1104.1 1539.9 1104.1 1542.4 1104.0C1544.8 1104.0 1547.2 1104.0 1549.6 1103.9C1552.0 1103.9 1555.6 1103.8 1556.8 1103.8"/>
<path class="c" stroke="#f0962a" d="M256.5 839.1C257.7 838.8 261.3 838.4 263.7 837.6C266.1 836.8 268.5 835.8 270.9 834.5C273.4 833.2 275.8 831.6 278.2 829.9C280.6 828.1 283.0 826.1 285.4 824.0C287.8 821.8 290.2 819.5 292.6 817.0C295.0 814.5 297.4 811.9 299.8 809.1C302.3 806.4 304.7 803.5 307.1 800.5C309.5 797.5 311.9 794.4 314.3 791.2C316.7 788.0 319.1 784.7 321.5 781.3C323.9 778.0 326.3 774.5 328.7 771.0C331.1 767.4 333.6 763.8 336.0 760.2C338.4 756.5 340.8 752.8 343.2 749.0C345.6 745.2 348.0 741.4 350.4 737.5C352.8 733.7 355.2 729.8 357.6 725.9C360.0 722.0 362.5 718.1 364.9 714.3C367.3 710.5 369.7 706.6 372.1 702.9C374.5 699.1 376.9 695.4 379.3 691.8C381.7 688.1 384.1 684.6 386.5 681.2C388.9 677.7 391.3 674.4 393.8 671.2C396.2 668.0 398.6 665.0 401.0 662.0C403.4 659.1 405.8 656.3 408.2 653.6C410.6 650.9 413.0 648.3 415.4 645.9C417.8 643.4 420.2 641.1 422.6 638.9C425.1 636.7 427.5 634.7 429.9 632.7C432.3 630.8 434.7 628.9 437.1 627.2C439.5 625.5 441.9 624.0 444.3 622.5C446.7 621.1 449.1 619.7 451.5 618.6C454.0 617.4 456.4 616.3 458.8 615.4C461.2 614.5 463.6 613.7 466.0 613.0C468.4 612.4 470.8 611.9 473.2 611.5C475.6 611.2 478.0 610.9 480.4 610.9C482.8 610.8 485.3 610.9 487.7 611.1C490.1 611.3 492.5 611.7 494.9 612.1C497.3 612.6 499.7 613.3 502.1 614.0C504.5 614.8 506.9 615.7 509.3 616.7C511.7 617.7 514.2 618.8 516.6 620.1C519.0 621.3 521.4 622.7 523.8 624.1C526.2 625.6 528.6 627.2 531.0 628.8C533.4 630.5 535.8 632.3 538.2 634.2C540.6 636.1 543.0 638.0 545.5 640.1C547.9 642.2 550.3 644.4 552.7 646.6C555.1 648.9 557.5 651.3 559.9 653.8C562.3 656.3 564.7 658.9 567.1 661.5C569.5 664.2 571.9 667.0 574.4 669.9C576.8 672.8 579.2 675.8 581.6 678.8C584.0 681.9 586.4 685.1 588.8 688.4C591.2 691.6 593.6 695.0 596.0 698.4C598.4 701.8 600.8 705.3 603.2 708.8C605.7 712.3 608.1 715.9 610.5 719.6C612.9 723.2 615.3 726.9 617.7 730.6C620.1 734.3 622.5 738.0 624.9 741.7C627.3 745.4 629.7 749.2 632.1 752.9C634.6 756.7 637.0 760.4 639.4 764.1C641.8 767.8 644.2 771.5 646.6 775.2C649.0 778.9 651.4 782.5 653.8 786.2C656.2 789.8 658.6 793.4 661.0 797.0C663.4 800.6 665.9 804.2 668.3 807.8C670.7 811.3 673.1 814.8 675.5 818.3C677.9 821.8 680.3 825.3 682.7 828.8C685.1 832.2 687.5 835.6 689.9 839.0C692.3 842.4 694.7 845.8 697.2 849.2C699.6 852.5 702.0 855.8 704.4 859.1C706.8 862.4 709.2 865.7 711.6 868.9C714.0 872.1 716.4 875.3 718.8 878.4C721.2 881.6 723.6 884.7 726.1 887.8C728.5 890.8 730.9 893.8 733.3 896.8C735.7 899.8 738.1 902.7 740.5 905.5C742.9 908.4 745.3 911.2 747.7 914.0C750.1 916.7 752.5 919.4 754.9 922.0C757.4 924.7 759.8 927.2 762.2 929.7C764.6 932.2 767.0 934.7 769.4 937.0C771.8 939.4 774.2 941.7 776.6 943.9C779.0 946.1 781.4 948.2 783.8 950.3C786.3 952.4 788.7 954.4 791.1 956.4C793.5 958.3 795.9 960.2 798.3 962.1C800.7 963.9 803.1 965.7 805.5 967.5C807.9 969.2 810.3 970.9 812.7 972.5C815.1 974.2 817.6 975.8 820.0 977.3C822.4 978.9 824.8 980.4 827.2 981.9C829.6 983.4 832.0 984.8 834.4 986.3C836.8 987.7 839.2 989.1 841.6 990.4C844.0 991.8 846.5 993.1 848.9 994.4C851.3 995.8 853.7 997.0 856.1 998.3C858.5 999.6 860.9 1000.8 863.3 1002.1C865.7 1003.3 868.1 1004.5 870.5 1005.7C872.9 1006.9 875.3 1008.1 877.8 1009.2C880.2 1010.3 882.6 1011.5 885.0 1012.6C887.4 1013.7 889.8 1014.8 892.2 1015.8C894.6 1016.9 897.0 1018.0 899.4 1019.0C901.8 1020.0 904.2 1021.0 906.6 1022.0C909.1 1023.0 911.5 1024.0 913.9 1024.9C916.3 1025.8 918.7 1026.8 921.1 1027.7C923.5 1028.6 925.9 1029.5 928.3 1030.3C930.7 1031.2 933.1 1032.1 935.5 1032.9C938.0 1033.7 940.4 1034.5 942.8 1035.3C945.2 1036.1 947.6 1036.9 950.0 1037.6C952.4 1038.4 954.8 1039.1 957.2 1039.9C959.6 1040.6 962.0 1041.3 964.4 1041.9C966.8 1042.6 969.3 1043.3 971.7 1043.9C974.1 1044.6 976.5 1045.2 978.9 1045.8C981.3 1046.4 983.7 1047.0 986.1 1047.6C988.5 1048.2 990.9 1048.8 993.3 1049.3C995.7 1049.9 998.2 1050.4 1000.6 1051.0C1003.0 1051.5 1005.4 1052.0 1007.8 1052.5C1010.2 1053.0 1012.6 1053.5 1015.0 1054.0C1017.4 1054.4 1019.8 1054.9 1022.2 1055.4C1024.6 1055.8 1027.0 1056.3 1029.5 1056.7C1031.9 1057.1 1034.3 1057.6 1036.7 1058.0C1039.1 1058.4 1041.5 1058.8 1043.9 1059.2C1046.3 1059.6 1048.7 1060.0 1051.1 1060.4C1053.5 1060.8 1055.9 1061.1 1058.4 1061.5C1060.8 1061.9 1063.2 1062.2 1065.6 1062.6C1068.0 1062.9 1070.4 1063.3 1072.8 1063.6C1075.2 1064.0 1077.6 1064.3 1080.0 1064.7C1082.4 1065.0 1084.8 1065.3 1087.2 1065.7C1089.7 1066.0 1092.1 1066.3 1094.5 1066.7C1096.9 1067.0 1099.3 1067.3 1101.7 1067.6C1104.1 1067.9 1106.5 1068.3 1108.9 1068.6C1111.3 1068.9 1113.7 1069.2 1116.1 1069.5C1118.6 1069.8 1121.0 1070.1 1123.4 1070.5C1125.8 1070.8 1128.2 1071.1 1130.6 1071.4C1133.0 1071.7 1135.4 1072.0 1137.8 1072.3C1140.2 1072.6 1142.6 1072.9 1145.0 1073.2C1147.4 1073.5 1149.9 1073.8 1152.3 1074.1C1154.7 1074.4 1157.1 1074.7 1159.5 1075.0C1161.9 1075.3 1164.3 1075.5 1166.7 1075.8C1169.1 1076.1 1171.5 1076.4 1173.9 1076.7C1176.3 1077.0 1178.7 1077.3 1181.2 1077.5C1183.6 1077.8 1186.0 1078.1 1188.4 1078.4C1190.8 1078.6 1193.2 1078.9 1195.6 1079.2C1198.0 1079.4 1200.4 1079.7 1202.8 1080.0C1205.2 1080.2 1207.6 1080.5 1210.1 1080.8C1212.5 1081.0 1214.9 1081.3 1217.3 1081.6C1219.7 1081.8 1222.1 1082.1 1224.5 1082.3C1226.9 1082.6 1229.3 1082.8 1231.7 1083.1C1234.1 1083.3 1236.5 1083.6 1238.9 1083.8C1241.4 1084.0 1243.8 1084.3 1246.2 1084.5C1248.6 1084.8 1251.0 1085.0 1253.4 1085.2C1255.8 1085.5 1258.2 1085.7 1260.6 1085.9C1263.0 1086.2 1265.4 1086.4 1267.8 1086.6C1270.3 1086.8 1272.7 1087.1 1275.1 1087.3C1277.5 1087.5 1279.9 1087.7 1282.3 1087.9C1284.7 1088.1 1287.1 1088.4 1289.5 1088.6C1291.9 1088.8 1294.3 1089.0 1296.7 1089.2C1299.1 1089.4 1301.6 1089.6 1304.0 1089.8C1306.4 1090.0 1308.8 1090.2 1311.2 1090.4C1313.6 1090.6 1316.0 1090.8 1318.4 1091.0C1320.8 1091.2 1323.2 1091.3 1325.6 1091.5C1328.0 1091.7 1330.5 1091.9 1332.9 1092.1C1335.3 1092.2 1337.7 1092.4 1340.1 1092.6C1342.5 1092.8 1344.9 1092.9 1347.3 1093.1C1349.7 1093.3 1352.1 1093.4 1354.5 1093.6C1356.9 1093.8 1359.3 1093.9 1361.8 1094.1C1364.2 1094.2 1366.6 1094.4 1369.0 1094.6C1371.4 1094.7 1373.8 1094.9 1376.2 1095.0C1378.6 1095.2 1381.0 1095.3 1383.4 1095.4C1385.8 1095.6 1388.2 1095.7 1390.7 1095.9C1393.1 1096.0 1395.5 1096.1 1397.9 1096.3C1400.3 1096.4 1402.7 1096.5 1405.1 1096.6C1407.5 1096.8 1409.9 1096.9 1412.3 1097.0C1414.7 1097.1 1417.1 1097.3 1419.5 1097.4C1422.0 1097.5 1424.4 1097.6 1426.8 1097.7C1429.2 1097.8 1431.6 1097.9 1434.0 1098.0C1436.4 1098.1 1438.8 1098.2 1441.2 1098.3C1443.6 1098.4 1446.0 1098.5 1448.4 1098.6C1450.8 1098.7 1453.3 1098.8 1455.7 1098.9C1458.1 1099.0 1460.5 1099.1 1462.9 1099.2C1465.3 1099.2 1467.7 1099.3 1470.1 1099.4C1472.5 1099.5 1474.9 1099.5 1477.3 1099.6C1479.7 1099.7 1482.2 1099.8 1484.6 1099.8C1487.0 1099.9 1489.4 1099.9 1491.8 1100.0C1494.2 1100.1 1496.6 1100.1 1499.0 1100.2C1501.4 1100.2 1503.8 1100.3 1506.2 1100.3C1508.6 1100.4 1511.0 1100.4 1513.5 1100.5C1515.9 1100.5 1518.3 1100.6 1520.7 1100.6C1523.1 1100.6 1525.5 1100.7 1527.9 1100.7C1530.3 1100.7 1532.7 1100.8 1535.1 1100.8C1537.5 1100.8 1539.9 1100.8 1542.4 1100.9C1544.8 1100.9 1547.2 1100.9 1549.6 1100.9C1552.0 1100.9 1555.6 1100.9 1556.8 1101.0"/>
<path class="c" stroke="#1e96e8" d="M256.5 584.7C257.7 584.2 261.3 583.1 263.7 581.6C266.1 580.1 268.5 578.2 270.9 575.8C273.4 573.5 275.8 570.7 278.2 567.6C280.6 564.5 283.0 561.0 285.4 557.1C287.8 553.3 290.2 549.0 292.6 544.5C295.0 539.9 297.4 535.0 299.8 529.8C302.3 524.6 304.7 519.1 307.1 513.3C309.5 507.5 311.9 501.5 314.3 495.2C316.7 488.9 319.1 482.4 321.5 475.7C323.9 469.0 326.3 462.1 328.7 455.0C331.1 448.0 333.6 440.7 336.0 433.4C338.4 426.1 340.8 418.6 343.2 411.1C345.6 403.6 348.0 396.0 350.4 388.3C352.8 380.7 355.2 373.0 357.6 365.4C360.0 357.8 362.5 350.1 364.9 342.6C367.3 335.0 369.7 327.5 372.1 320.2C374.5 312.8 376.9 305.5 379.3 298.5C381.7 291.4 384.1 284.5 386.5 277.9C388.9 271.2 391.3 264.8 393.8 258.6C396.2 252.4 398.6 246.4 401.0 240.7C403.4 235.0 405.8 229.6 408.2 224.4C410.6 219.1 413.0 214.1 415.4 209.4C417.8 204.6 420.2 200.1 422.6 195.8C425.1 191.4 427.5 187.3 429.9 183.5C432.3 179.6 434.7 175.9 437.1 172.5C439.5 169.0 441.9 165.8 444.3 162.7C446.7 159.7 449.1 157.0 451.5 154.4C454.0 151.9 456.4 149.6 458.8 147.6C461.2 145.7 463.6 143.9 466.0 142.5C468.4 141.0 470.8 139.8 473.2 139.0C475.6 138.1 478.0 137.6 480.4 137.3C482.8 137.1 485.3 137.2 487.7 137.6C490.1 138.0 492.5 138.7 494.9 139.7C497.3 140.7 499.7 142.0 502.1 143.6C504.5 145.1 506.9 147.0 509.3 149.0C511.7 151.1 514.2 153.4 516.6 155.9C519.0 158.4 521.4 161.2 523.8 164.1C526.2 167.1 528.6 170.2 531.0 173.5C533.4 176.8 535.8 180.3 538.2 183.9C540.6 187.6 543.0 191.4 545.5 195.5C547.9 199.5 550.3 203.7 552.7 208.1C555.1 212.5 557.5 217.1 559.9 221.9C562.3 226.7 564.7 231.7 567.1 236.9C569.5 242.0 571.9 247.4 574.4 253.0C576.8 258.6 579.2 264.4 581.6 270.4C584.0 276.4 586.4 282.6 588.8 289.0C591.2 295.3 593.6 301.9 596.0 308.6C598.4 315.2 600.8 322.1 603.2 329.0C605.7 335.9 608.1 342.9 610.5 349.9C612.9 357.0 615.3 364.2 617.7 371.3C620.1 378.5 622.5 385.7 624.9 392.9C627.3 400.1 629.7 407.3 632.1 414.5C634.6 421.6 637.0 428.8 639.4 435.8C641.8 442.9 644.2 449.9 646.6 456.8C649.0 463.7 651.4 470.5 653.8 477.3C656.2 484.1 658.6 490.9 661.0 497.6C663.4 504.3 665.9 510.9 668.3 517.5C670.7 524.1 673.1 530.7 675.5 537.2C677.9 543.8 680.3 550.3 682.7 556.8C685.1 563.3 687.5 569.7 689.9 576.2C692.3 582.6 694.7 589.1 697.2 595.5C699.6 601.9 702.0 608.4 704.4 614.8C706.8 621.2 709.2 627.6 711.6 634.0C714.0 640.4 716.4 646.7 718.8 653.1C721.2 659.4 723.6 665.7 726.1 671.9C728.5 678.1 730.9 684.3 733.3 690.3C735.7 696.4 738.1 702.5 740.5 708.4C742.9 714.3 745.3 720.1 747.7 725.9C750.1 731.6 752.5 737.3 754.9 742.8C757.4 748.3 759.8 753.7 762.2 758.9C764.6 764.2 767.0 769.3 769.4 774.3C771.8 779.3 774.2 784.1 776.6 788.8C779.0 793.4 781.4 798.0 783.8 802.4C786.3 806.8 788.7 811.0 791.1 815.2C793.5 819.3 795.9 823.3 798.3 827.2C800.7 831.1 803.1 834.9 805.5 838.5C807.9 842.2 810.3 845.7 812.7 849.2C815.1 852.6 817.6 855.9 820.0 859.2C822.4 862.4 824.8 865.6 827.2 868.6C829.6 871.7 832.0 874.7 834.4 877.6C836.8 880.5 839.2 883.3 841.6 886.1C844.0 888.8 846.5 891.5 848.9 894.1C851.3 896.7 853.7 899.3 856.1 901.8C858.5 904.3 860.9 906.7 863.3 909.1C865.7 911.5 868.1 913.8 870.5 916.1C872.9 918.4 875.3 920.6 877.8 922.7C880.2 924.9 882.6 927.0 885.0 929.1C887.4 931.1 889.8 933.2 892.2 935.1C894.6 937.1 897.0 939.0 899.4 940.9C901.8 942.8 904.2 944.6 906.6 946.4C909.1 948.2 911.5 949.9 913.9 951.6C916.3 953.3 918.7 955.0 921.1 956.6C923.5 958.2 925.9 959.8 928.3 961.3C930.7 962.9 933.1 964.4 935.5 965.9C938.0 967.3 940.4 968.8 942.8 970.2C945.2 971.6 947.6 973.0 950.0 974.3C952.4 975.7 954.8 977.0 957.2 978.3C959.6 979.6 962.0 980.8 964.4 982.1C966.8 983.3 969.3 984.5 971.7 985.7C974.1 986.9 976.5 988.0 978.9 989.2C981.3 990.3 983.7 991.4 986.1 992.5C988.5 993.6 990.9 994.6 993.3 995.7C995.7 996.7 998.2 997.7 1000.6 998.7C1003.0 999.7 1005.4 1000.7 1007.8 1001.6C1010.2 1002.6 1012.6 1003.5 1015.0 1004.4C1017.4 1005.3 1019.8 1006.2 1022.2 1007.1C1024.6 1008.0 1027.0 1008.8 1029.5 1009.7C1031.9 1010.5 1034.3 1011.3 1036.7 1012.1C1039.1 1013.0 1041.5 1013.7 1043.9 1014.5C1046.3 1015.3 1048.7 1016.1 1051.1 1016.8C1053.5 1017.6 1055.9 1018.3 1058.4 1019.1C1060.8 1019.8 1063.2 1020.5 1065.6 1021.2C1068.0 1021.9 1070.4 1022.6 1072.8 1023.3C1075.2 1024.0 1077.6 1024.7 1080.0 1025.4C1082.4 1026.0 1084.8 1026.7 1087.2 1027.4C1089.7 1028.0 1092.1 1028.7 1094.5 1029.3C1096.9 1030.0 1099.3 1030.6 1101.7 1031.3C1104.1 1031.9 1106.5 1032.5 1108.9 1033.2C1111.3 1033.8 1113.7 1034.4 1116.1 1035.0C1118.6 1035.7 1121.0 1036.3 1123.4 1036.9C1125.8 1037.5 1128.2 1038.1 1130.6 1038.7C1133.0 1039.3 1135.4 1039.9 1137.8 1040.5C1140.2 1041.1 1142.6 1041.7 1145.0 1042.3C1147.4 1042.8 1149.9 1043.4 1152.3 1044.0C1154.7 1044.6 1157.1 1045.1 1159.5 1045.7C1161.9 1046.3 1164.3 1046.8 1166.7 1047.4C1169.1 1048.0 1171.5 1048.5 1173.9 1049.1C1176.3 1049.6 1178.7 1050.1 1181.2 1050.7C1183.6 1051.2 1186.0 1051.8 1188.4 1052.3C1190.8 1052.8 1193.2 1053.3 1195.6 1053.9C1198.0 1054.4 1200.4 1054.9 1202.8 1055.4C1205.2 1055.9 1207.6 1056.4 1210.1 1056.9C1212.5 1057.4 1214.9 1057.9 1217.3 1058.4C1219.7 1058.9 1222.1 1059.4 1224.5 1059.9C1226.9 1060.4 1229.3 1060.8 1231.7 1061.3C1234.1 1061.8 1236.5 1062.3 1238.9 1062.7C1241.4 1063.2 1243.8 1063.6 1246.2 1064.1C1248.6 1064.5 1251.0 1065.0 1253.4 1065.4C1255.8 1065.9 1258.2 1066.3 1260.6 1066.8C1263.0 1067.2 1265.4 1067.6 1267.8 1068.0C1270.3 1068.5 1272.7 1068.9 1275.1 1069.3C1277.5 1069.7 1279.9 1070.1 1282.3 1070.5C1284.7 1070.9 1287.1 1071.3 1289.5 1071.7C1291.9 1072.1 1294.3 1072.5 1296.7 1072.9C1299.1 1073.3 1301.6 1073.7 1304.0 1074.0C1306.4 1074.4 1308.8 1074.8 1311.2 1075.2C1313.6 1075.5 1316.0 1075.9 1318.4 1076.2C1320.8 1076.6 1323.2 1076.9 1325.6 1077.3C1328.0 1077.6 1330.5 1078.0 1332.9 1078.3C1335.3 1078.6 1337.7 1079.0 1340.1 1079.3C1342.5 1079.6 1344.9 1080.0 1347.3 1080.3C1349.7 1080.6 1352.1 1080.9 1354.5 1081.2C1356.9 1081.5 1359.3 1081.8 1361.8 1082.1C1364.2 1082.4 1366.6 1082.7 1369.0 1083.0C1371.4 1083.3 1373.8 1083.5 1376.2 1083.8C1378.6 1084.1 1381.0 1084.4 1383.4 1084.6C1385.8 1084.9 1388.2 1085.2 1390.7 1085.4C1393.1 1085.7 1395.5 1085.9 1397.9 1086.2C1400.3 1086.4 1402.7 1086.7 1405.1 1086.9C1407.5 1087.1 1409.9 1087.4 1412.3 1087.6C1414.7 1087.8 1417.1 1088.0 1419.5 1088.2C1422.0 1088.5 1424.4 1088.7 1426.8 1088.9C1429.2 1089.1 1431.6 1089.3 1434.0 1089.5C1436.4 1089.7 1438.8 1089.9 1441.2 1090.0C1443.6 1090.2 1446.0 1090.4 1448.4 1090.6C1450.8 1090.8 1453.3 1090.9 1455.7 1091.1C1458.1 1091.3 1460.5 1091.4 1462.9 1091.6C1465.3 1091.7 1467.7 1091.9 1470.1 1092.0C1472.5 1092.2 1474.9 1092.3 1477.3 1092.5C1479.7 1092.6 1482.2 1092.7 1484.6 1092.8C1487.0 1093.0 1489.4 1093.1 1491.8 1093.2C1494.2 1093.3 1496.6 1093.4 1499.0 1093.5C1501.4 1093.6 1503.8 1093.7 1506.2 1093.8C1508.6 1093.9 1511.0 1094.0 1513.5 1094.1C1515.9 1094.2 1518.3 1094.3 1520.7 1094.3C1523.1 1094.4 1525.5 1094.5 1527.9 1094.5C1530.3 1094.6 1532.7 1094.7 1535.1 1094.7C1537.5 1094.8 1539.9 1094.8 1542.4 1094.9C1544.8 1094.9 1547.2 1095.0 1549.6 1095.0C1552.0 1095.0 1555.6 1095.1 1556.8 1095.1"/>
</g>
<g id="annotation" class="an">
<text transform="translate(589.4 139.6) scale(1 1.035)"><tspan x="0">20</tspan><tspan x="64.2" class="mu" textLength="35.4" lengthAdjust="spacingAndGlyphs">μ</tspan><tspan x="97.8">M</tspan></text>
<clipPath id="k2"><rect x="-900" y="-115.0" width="1800" height="109.2"/><rect x="48.73" y="-6.8" width="5.32" height="11.8"/><rect x="-900" y="-6.8" width="937.85" height="57.5"/><rect x="64.30" y="-6.8" width="900" height="57.5"/></clipPath>
<text transform="translate(589.4 375.4) scale(1 1.035)" clip-path="url(#k2)"><tspan x="34.4">1</tspan><tspan x="64.2" class="mu" textLength="35.4" lengthAdjust="spacingAndGlyphs">μ</tspan><tspan x="97.8">M</tspan></text>
<path d="M664 301.2V200" stroke="#000" stroke-width="7" stroke-linecap="round" fill="none"/>
<path d="M662 170.2H666L676 211.2L667.5 208.6H660.5L652 211.2Z" fill="#000" stroke="#000" stroke-width="2" stroke-linejoin="round"/>
</g>
<g id="inset">
<path class="ax" d="M951.3 47.0V611.7"/>
<path class="ax" d="M939.1 600.3H1557.5"/>
<path class="t" d="M939.1 442.8H951.3M939.1 285.3H951.3M939.1 127.8H951.3M943.8 521.5H951.3M943.8 364.0H951.3M943.8 206.5H951.3M943.8 49.0H951.3M1066.0 600.3V611.5M1181.1 600.3V611.5M1296.3 600.3V611.5M1411.4 600.3V611.5M1526.5 600.3V611.5M1008.5 600.3V607.5M1123.6 600.3V607.5M1238.7 600.3V607.5M1353.8 600.3V607.5M1468.9 600.3V607.5"/>
<g class="in">
<text transform="translate(934.5 614.7) scale(1 1.035)" text-anchor="end">0.0</text>
<text transform="translate(934.5 457.2) scale(1 1.035)" text-anchor="end">0.2</text>
<text transform="translate(934.5 299.7) scale(1 1.035)" text-anchor="end">0.4</text>
<text transform="translate(934.5 142.2) scale(1 1.035)" text-anchor="end">0.6</text>
<text transform="translate(950.9 649.6) scale(1 1.035)" text-anchor="middle">0</text>
<text transform="translate(1066.6 649.6) scale(1 1.035)" text-anchor="middle">4</text>
<text transform="translate(1181.7 649.6) scale(1 1.035)" text-anchor="middle">8</text>
<clipPath id="k3"><rect x="-900" y="-86.8" width="1800" height="82.0"/><rect x="-13.34" y="-5.8" width="4.06" height="10.8"/><rect x="-900" y="-5.8" width="878.47" height="43.4"/><rect x="-1.56" y="-5.8" width="900" height="43.4"/></clipPath>
<text transform="translate(1296.9 649.6) scale(1 1.035)" text-anchor="middle" clip-path="url(#k3)">12</text>
<clipPath id="k4"><rect x="-900" y="-86.8" width="1800" height="82.0"/><rect x="-13.34" y="-5.8" width="4.06" height="10.8"/><rect x="-900" y="-5.8" width="878.47" height="43.4"/><rect x="-1.56" y="-5.8" width="900" height="43.4"/></clipPath>
<text transform="translate(1412.0 649.6) scale(1 1.035)" text-anchor="middle" clip-path="url(#k4)">16</text>
<text transform="translate(1527.1 649.6) scale(1 1.035)" text-anchor="middle">20</text>
<text transform="translate(845.2 331.0) rotate(-90)" text-anchor="middle">Absorbance at 350nm</text>
<text transform="translate(0.0 708.2) scale(1 1.035)"><tspan x="1132.7" class="big">[</tspan><tspan x="1148.5">H</tspan><tspan x="1179.4" dy="15">2</tspan><tspan x="1204.6" dy="-15">O</tspan><tspan x="1237.5" dy="15">2</tspan><tspan x="1262.8" dy="-15" class="big">] </tspan><tspan x="1291.5" class="big">(</tspan><tspan x="1308.2" class="mu" textLength="26.5" lengthAdjust="spacingAndGlyphs">μ</tspan><tspan x="1334.3">M</tspan><tspan x="1371.6" class="big">)</tspan></text>
<text transform="translate(1005.0 118.2) scale(1 1.035)">y=0.03296x<tspan x="223.7" dy="-6.2" style="fill:#a4a4a4;font-size:34.6px">—</tspan><tspan x="260.6" dy="6.2">0.0002</tspan></text>
<text transform="translate(1004.2 177.0) scale(1 1.035)">R<tspan dy="-20.8" font-size="25.5">2</tspan><tspan dy="20.8">=0.99907</tspan></text>
</g>
<defs><radialGradient id="sph" cx="0.5" cy="0.5" r="0.5" fx="0.36" fy="0.33"><stop offset="0" stop-color="#ffffff"/><stop offset="0.14" stop-color="#d8f1f6"/><stop offset="0.36" stop-color="#4dbdd3"/><stop offset="0.6" stop-color="#14a0c0"/><stop offset="1" stop-color="#0d9ab9"/></radialGradient></defs>
<circle cx="979.7" cy="574.3" r="12.9" fill="url(#sph)"/>
<circle cx="1037.2" cy="521.5" r="12.9" fill="url(#sph)"/>
<circle cx="1094.8" cy="468.8" r="12.9" fill="url(#sph)"/>
<circle cx="1152.4" cy="416.8" r="12.9" fill="url(#sph)"/>
<circle cx="1238.7" cy="343.2" r="12.9" fill="url(#sph)"/>
<circle cx="1526.5" cy="96.3" r="12.9" fill="url(#sph)"/>
<path d="M979.7 573.9L1526.5 94.3" stroke="#ff6eb4" stroke-width="1.6" fill="none"/>
</g>
</svg>
</body></html>
